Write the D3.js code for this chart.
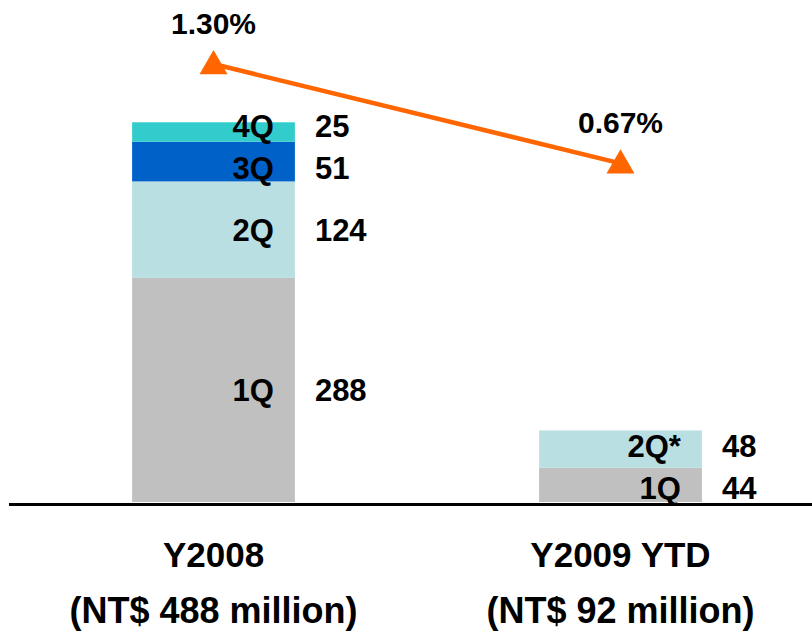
<!DOCTYPE html>
<html>
<head>
<meta charset="utf-8">
<script src="https://cdn.jsdelivr.net/npm/d3@7/dist/d3.min.js"></script>
<style>
  html, body { margin: 0; padding: 0; background: #ffffff; }
  svg { display: block; }
  text { font-family: "Liberation Sans", Arial, Helvetica, sans-serif; font-weight: bold; fill: #000; }
</style>
</head>
<body>
<svg id="chart" width="812" height="632"></svg>
<script>
// Yearly bad-debt write-offs, stacked by quarter (NT$ million)
const years = ["Y2008", "Y2009 YTD"];
const yearTotals = ["(NT$ 488 million)", "(NT$ 92 million)"];
const quarters = ["1Q", "2Q", "3Q", "4Q"];
const quarterLabels = [["1Q", "2Q", "3Q", "4Q"], ["1Q", "2Q*"]];
const values2008 = [288, 124, 51, 25];
const values2009 = [44, 48];
const ratioValues = [1.30, 0.67];   // ratio, %
const ratioLabels = ["1.30%", "0.67%"];
const quarterColors = ["#c0c0c0", "#b9dfe2", "#0062c9", "#33cccc"];

const svg = d3.select("#chart");
const W = 812;
const baseY = 502;
const minLabelGap = 42;

const x = d3.scaleBand().domain(years).range([10, 824]).paddingInner(0.6).paddingOuter(0.3);
const y = d3.scaleLinear().domain([0, 640]).range([baseY, 4]);
const y2 = d3.scaleLinear().domain([0, 1.7]).range([269, 1]);

const seriesByYear = [values2008, values2009];

// spread label centres so neighbouring segment labels never collide
function spreadLabels(segs) {
  for (let k = 0; k < 5; k++) {
    for (let j = 1; j < segs.length; j++) {
      const lo = segs[j - 1], hi = segs[j];
      const gap = lo.ly - hi.ly;
      if (gap < minLabelGap) {
        const push = (minLabelGap - gap) / 2;
        lo.ly += push;
        hi.ly -= push;
      }
    }
  }
}

// stacked segments
seriesByYear.forEach((vals, i) => {
  const yr = years[i];
  let acc = 0;
  const segs = vals.map((v, q) => {
    const s = { year: yr, q, v, y0: acc, y1: acc + v, label: quarterLabels[i][q] };
    s.ly = (y(s.y0) + y(s.y1)) / 2;
    acc += v;
    return s;
  });
  spreadLabels(segs);

  const g = svg.append("g");
  g.selectAll("rect").data(segs).join("rect")
    .attr("x", x(yr))
    .attr("width", x.bandwidth())
    .attr("y", d => y(d.y1))
    .attr("height", d => y(d.y0) - y(d.y1))
    .attr("fill", d => quarterColors[d.q]);

  g.selectAll("text.q").data(segs).join("text")
    .attr("class", "q")
    .attr("x", x(yr) + x.bandwidth() - 21)
    .attr("y", d => d.ly)
    .attr("dy", "0.35em")
    .attr("text-anchor", "end")
    .style("font-size", "31px")
    .text(d => d.label);

  g.selectAll("text.v").data(segs).join("text")
    .attr("class", "v")
    .attr("x", x(yr) + x.bandwidth() + 20)
    .attr("y", d => d.ly)
    .attr("dy", "0.35em")
    .attr("text-anchor", "start")
    .style("font-size", "31px")
    .text(d => d.v);
});

// baseline
svg.append("line")
  .attr("x1", 9).attr("x2", W)
  .attr("y1", baseY + 2.5).attr("y2", baseY + 2.5)
  .attr("stroke", "#000").attr("stroke-width", 3);

// category labels
svg.selectAll("text.cat").data(years).join("text")
  .attr("class", "cat")
  .attr("x", d => x(d) + x.bandwidth() / 2)
  .attr("y", 567)
  .attr("text-anchor", "middle")
  .style("font-size", "35px")
  .text(d => d);

svg.selectAll("text.tot").data(yearTotals).join("text")
  .attr("class", "tot")
  .attr("x", (d, i) => x(years[i]) + x.bandwidth() / 2)
  .attr("y", 623)
  .attr("text-anchor", "middle")
  .style("font-size", "36px")
  .text(d => d);

// ratio line with triangle markers
const pts = ratioValues.map((v, i) => [x(years[i]) + x.bandwidth() / 2, y2(v)]);
svg.append("path")
  .attr("d", d3.line()(pts))
  .attr("fill", "none")
  .attr("stroke", "#ff6600")
  .attr("stroke-width", 4.5);

const tri = d3.symbol().type(d3.symbolTriangle).size(340);
svg.selectAll("path.mk").data(pts).join("path")
  .attr("class", "mk")
  .attr("d", tri)
  .attr("transform", d => `translate(${d[0]},${d[1] + 2})`)
  .attr("fill", "#ff6600");

svg.selectAll("text.pct").data(ratioLabels).join("text")
  .attr("class", "pct")
  .attr("x", (d, i) => pts[i][0])
  .attr("y", (d, i) => pts[i][1] - 30)
  .attr("text-anchor", "middle")
  .style("font-size", "30px")
  .text(d => d);
</script>
</body>
</html>
